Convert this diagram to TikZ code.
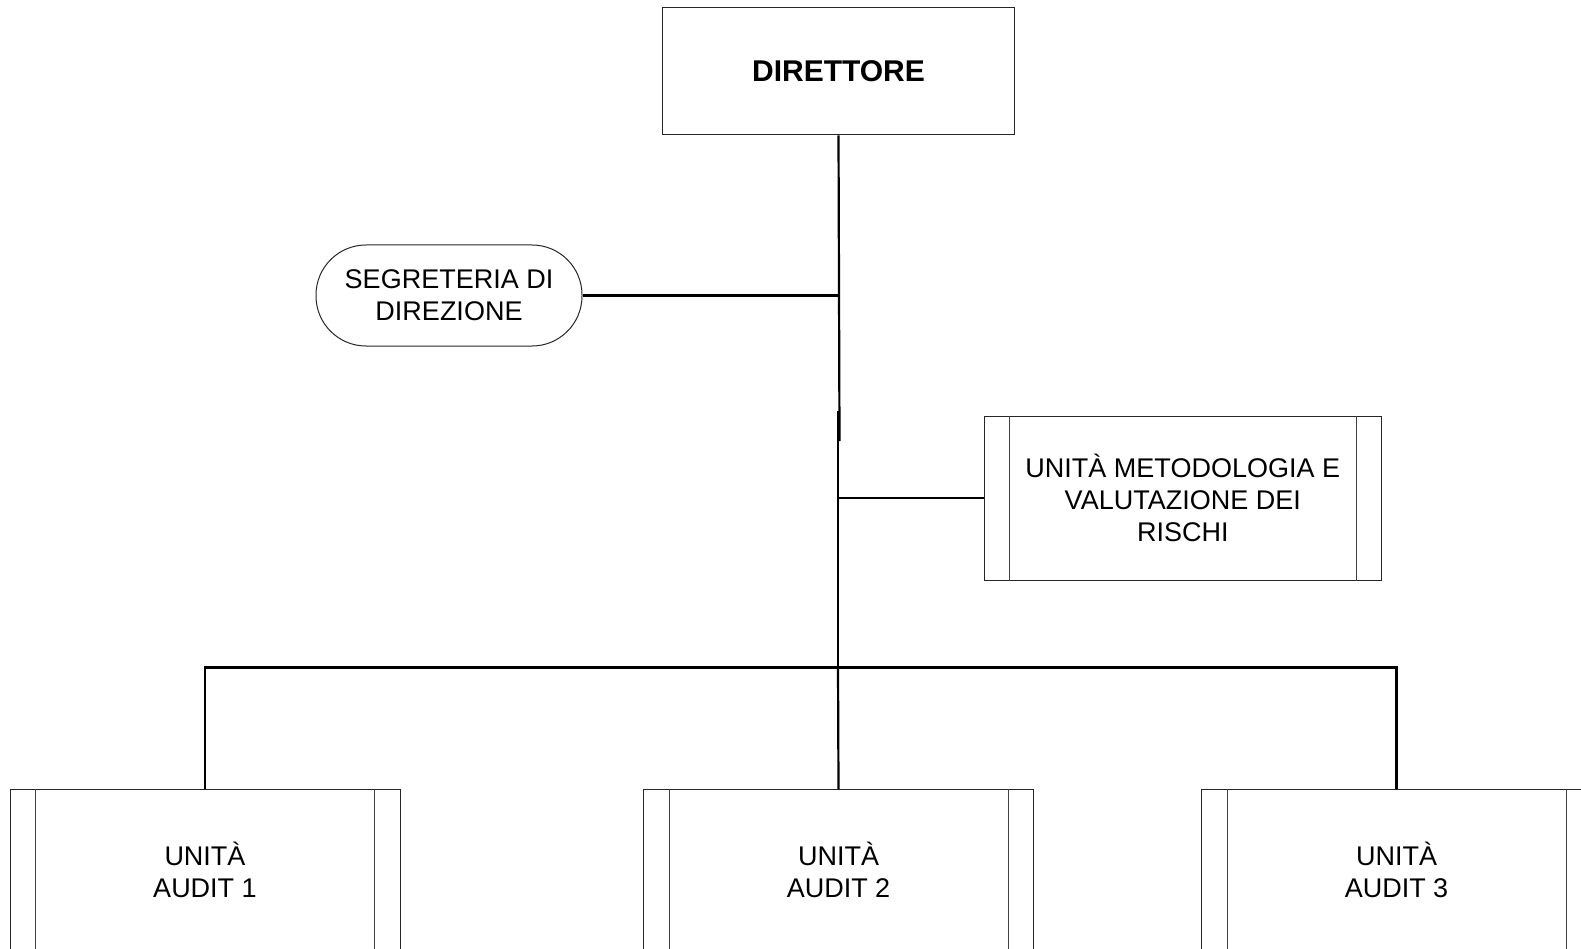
\documentclass[tikz,border=0pt]{standalone}
\usepackage{fontspec}
\setmainfont{Liberation Sans}
\begin{document}
\begin{tikzpicture}[x=1pt,y=-1pt,
  boxline/.style={draw=black!85, line width=1pt},
  conn/.style={draw=black, line width=2.2pt},
  txt/.style={font=\fontsize{27}{32}\selectfont, align=center, text=black, inner sep=0pt},
  unitbox/.style={boxline, txt, minimum width=390pt, minimum height=161pt},
  inner/.style={draw=black!75, line width=1pt}]
\clip (0,0) rectangle (1581,949);
\fill[white] (0,0) rectangle (1581,949);

\node[boxline, txt, font=\fontsize{30}{34}\selectfont\bfseries, minimum width=351.5pt, minimum height=127pt] (dir) at (838.5,71.5) {DIRETTORE};
\node[boxline, txt, rounded corners=50pt, minimum width=266pt, minimum height=101pt] (seg) at (449,295.5) {SEGRETERIA DI\\DIREZIONE};
\node[unitbox, minimum width=397.5pt, minimum height=164pt] (met) at (1182.75,498) {UNITÀ METODOLOGIA E\\VALUTAZIONE DEI\\RISCHI};
\node[unitbox] (a1) at (205,870) {UNITÀ\\AUDIT 1};
\node[unitbox] (a2) at (838.5,870) {UNITÀ\\AUDIT 2};
\node[unitbox] (a3) at (1396.5,870) {UNITÀ\\AUDIT 3};

\foreach \n in {met,a1,a2,a3}{
  \draw[inner] ([xshift=26pt]\n.north west) -- ([xshift=26pt]\n.south west)
               ([xshift=-26pt]\n.north east) -- ([xshift=-26pt]\n.south east);
}

\coordinate (jog1) at (839.5,441);
\coordinate (jog2) at (838,411);
\coordinate (bus) at (838,667.5);

\draw[conn] (dir.south) -- (jog1);
\draw[conn] (jog2) -- (bus);
\draw[conn] (seg.east) -- (seg.east -| bus);
\draw[conn] (met.west) -- (met.west -| bus);
\draw[conn] (a1.north) |- (bus) -| (a3.north);
\draw[conn] (bus) -- (a2.north);
\end{tikzpicture}
\end{document}
